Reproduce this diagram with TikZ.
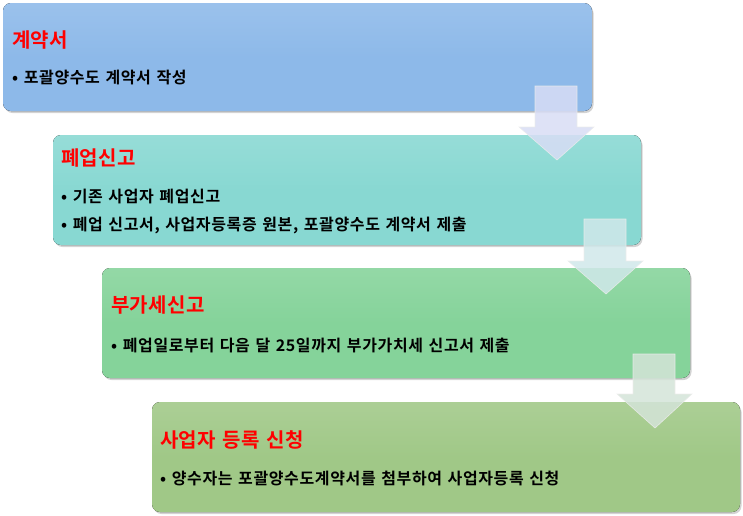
\documentclass[tikz,border=0pt]{standalone}
\usepackage{fontspec}
\setmainfont{Noto Sans CJK KR}[BoldFont={* Bold}]
\newfontfamily\krbody{Noto Sans CJK KR}[BoldFont={* Bold},LetterSpace=4,WordSpace=1.3]
\newfontfamily\krtitle{Noto Sans CJK KR}[BoldFont={* Bold},LetterSpace=2,WordSpace=1.3]
\usetikzlibrary{shadows}
\definecolor{cA}{HTML}{8DB9E9}
\definecolor{cB}{HTML}{88D8D2}
\definecolor{cC}{HTML}{85D39A}
\definecolor{cD}{HTML}{A0C887}
\definecolor{aA}{HTML}{D8DDF5}
\definecolor{aB}{HTML}{D0E8EA}
\definecolor{aC}{HTML}{D4E4D8}
\begin{document}
\begin{tikzpicture}[x=1pt,y=-1pt,
  stagebox/.style={draw=none,rounded corners=8pt,drop shadow={shadow xshift=1.5pt,shadow yshift=-2pt,opacity=0.35}},
  ttl/.style={anchor=west,text=red,font=\krtitle\fontsize{20}{23}\selectfont\bfseries,inner sep=0pt},
  itm/.style={anchor=west,font=\krbody\fontsize{16}{19}\selectfont\bfseries,inner sep=0pt},
  downarrow/.style={draw=white!85!gray,line width=0.6pt,opacity=0.85}]
\useasboundingbox (0,0) rectangle (743,515);
% boxes
\fill[stagebox,top color=cA!88!white,bottom color=cA,middle color=cA] (3,3) rectangle (592,111);
\fill[stagebox,top color=cB!88!white,bottom color=cB,middle color=cB] (53,135) rectangle (641,245);
\fill[stagebox,top color=cC!88!white,bottom color=cC,middle color=cC] (102,268) rectangle (690,378);
\fill[stagebox,top color=cD!88!white,bottom color=cD,middle color=cD] (152,402) rectangle (740,512);
% arrows
\filldraw[downarrow,fill=aA] (535,86) -- (577,86) -- (577,127) -- (594,127) -- (557,160) -- (519,127) -- (535,127) -- cycle;
\filldraw[downarrow,fill=aB] (584,219) -- (626,219) -- (626,261) -- (643,261) -- (606,294) -- (568,261) -- (584,261) -- cycle;
\filldraw[downarrow,fill=aC] (633,354) -- (675,354) -- (675,394) -- (692,394) -- (655,428) -- (617,394) -- (633,394) -- cycle;
% texts
\node[ttl] (t1) at (12,40) {계약서};
\node[itm] (i1) at (12,78) {•\ 포괄양수도 계약서 작성};
\node[ttl] (t2) at (61,158) {폐업신고};
\node[itm] (i2a) at (61,197) {•\ 기존 사업자 폐업신고};
\node[itm] (i2b) at (61,225) {•\ 폐업 신고서, 사업자등록증 원본, 포괄양수도 계약서 제출};
\node[ttl] (t3) at (111,305) {부가세신고};
\node[itm] (i3) at (111,345) {•\ 폐업일로부터 다음 달 25일까지 부가가치세 신고서 제출};
\node[ttl] (t4) at (160,440) {사업자 등록 신청};
\node[itm] (i4) at (160,478) {•\ 양수자는 포괄양수도계약서를 첨부하여 사업자등록 신청};
\end{tikzpicture}
\end{document}
